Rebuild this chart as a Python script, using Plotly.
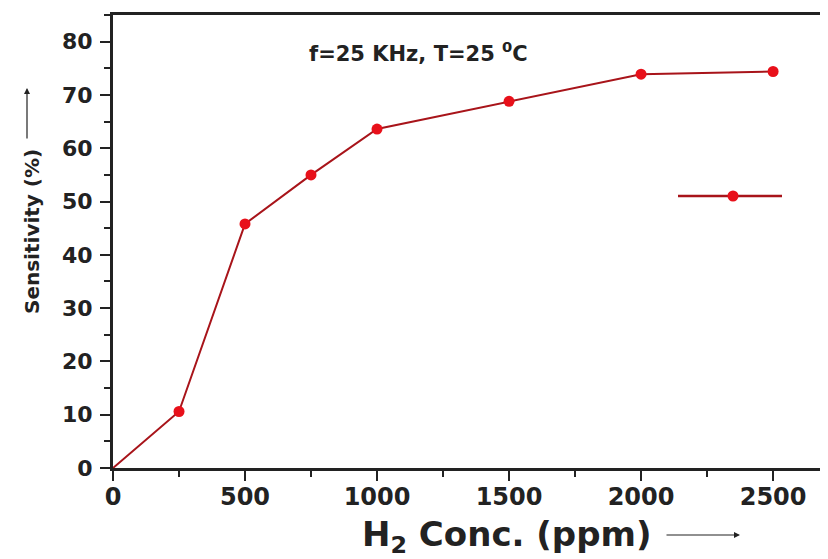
import plotly.graph_objects as go

# Data
conc_ppm = [0, 250, 500, 750, 1000, 1500, 2000, 2500]
sensitivity = [0, 10.6, 45.8, 55.0, 63.6, 68.8, 73.9, 74.4]
x_ticks = [0, 500, 1000, 1500, 2000, 2500]
y_ticks = [0, 10, 20, 30, 40, 50, 60, 70, 80]

# the page body has an 8px margin; compensate so the picture lands at the reference positions
OFF = 8
W, H = 828 - OFF, 559 - OFF
ML, MR, MT, MB = 113 - OFF, 0, 15 - OFF, 559 - 468
PW, PH = W - ML - MR, H - MT - MB

def px(xp):
    return (xp - OFF - ML) / PW

def py(yp):
    return (H - MB - (yp - OFF)) / PH

FONT = "DejaVu Sans"
INK = "#222222"
LINE_C = "#a8141a"
MARK_C = "#e8101a"

fig = go.Figure()
fig.add_trace(go.Scatter(
    x=conc_ppm, y=sensitivity, mode="lines+markers",
    line=dict(color=LINE_C, width=2),
    marker=dict(color=MARK_C, size=[0] + [11] * (len(conc_ppm) - 1),
                opacity=1, line=dict(width=0)),
    showlegend=False,
))

axis_common = dict(
    showline=True, linecolor=INK, linewidth=3,
    ticks="outside", ticklen=10, tickwidth=2, tickcolor=INK,
    showgrid=False, zeroline=False,
)

fig.update_xaxes(
    range=[0, 2708], tickmode="array", tickvals=x_ticks,
    ticktext=[str(v) for v in x_ticks], mirror=True,
    tickfont=dict(family=FONT, size=24, color=INK, weight="bold"),
    minor=dict(ticks="outside", ticklen=6, tickwidth=2, tickcolor=INK, dtick=250),
    ticklabelstandoff=-5,
    **axis_common,
)
fig.update_yaxes(
    range=[0, 85], tickmode="array", tickvals=y_ticks,
    ticktext=[str(v) for v in y_ticks], mirror=False,
    tickfont=dict(family=FONT, size=22, color=INK, weight="bold"),
    minor=dict(ticks="outside", ticklen=6, tickwidth=2, tickcolor=INK, dtick=5),
    ticklabelstandoff=3,
    **axis_common,
)

annotations = [
    dict(text="f=25 KHz, T=25 <sup>0</sup>C", x=px(418), y=py(52),
         xref="paper", yref="paper", showarrow=False,
         font=dict(family=FONT, size=21, color=INK, weight="bold"),
         xanchor="center", yanchor="middle"),
    dict(text="Sensitivity (%)", x=px(32), y=py(232), textangle=-90,
         xref="paper", yref="paper", showarrow=False,
         font=dict(family=FONT, size=20, color=INK, weight="bold"),
         xanchor="center", yanchor="middle"),
    dict(text="", x=px(27), y=py(88), xref="paper", yref="paper",
         showarrow=True, ax=0, ay=52, arrowhead=2, arrowsize=1,
         arrowwidth=1.2, arrowcolor=INK),
    dict(text="H<sub>2</sub> Conc. (ppm)", x=px(360), y=py(536),
         xref="paper", yref="paper", showarrow=False,
         font=dict(family=FONT, size=34, color=INK, weight="bold"),
         xanchor="left", yanchor="middle"),
    dict(text="", x=px(740), y=py(535), xref="paper", yref="paper",
         showarrow=True, ax=-75, ay=0, arrowhead=2, arrowsize=1,
         arrowwidth=1.2, arrowcolor=INK),
]

shapes = [
    dict(type="line", xref="paper", yref="paper",
         x0=px(678), x1=px(782), y0=py(196), y1=py(196),
         line=dict(color=LINE_C, width=2.5)),
    dict(type="circle", xref="paper", yref="paper",
         x0=px(727.5), x1=px(738.5), y0=py(201.5), y1=py(190.5),
         fillcolor=MARK_C, line=dict(width=0)),
]

fig.update_layout(
    width=W, height=H,
    margin=dict(l=ML, r=MR, t=MT, b=MB),
    paper_bgcolor="white", plot_bgcolor="white",
    annotations=annotations, shapes=shapes,
    showlegend=False,
)

fig.write_html("out.html")
